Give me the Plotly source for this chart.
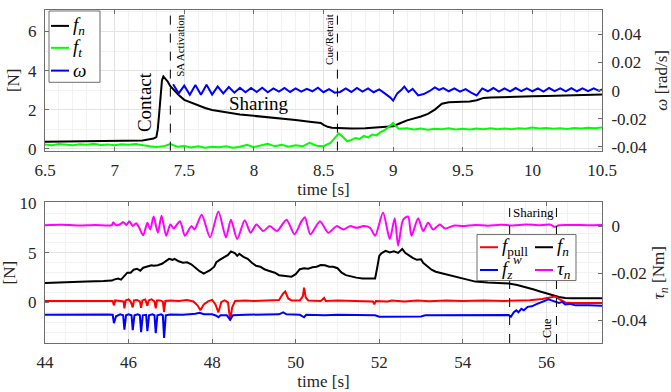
import plotly.graph_objects as go

# ---------------- Top panel data ----------------
top_t_fn = [6.5, 6.7, 6.9, 7.1, 7.2, 7.25, 7.28, 7.3, 7.31, 7.32, 7.33, 7.34, 7.35, 7.36, 7.38, 7.4,
            7.43, 7.46, 7.5, 7.55, 7.6, 7.65, 7.7, 7.8, 7.9, 8.0, 8.1, 8.2, 8.3, 8.4, 8.46, 8.48, 8.5,
            8.53, 8.56, 8.6, 8.7, 8.8, 8.9, 8.95, 9.0, 9.05, 9.1, 9.2, 9.25, 9.3, 9.35, 9.4, 9.5, 9.55,
            9.6, 9.65, 9.7, 9.8, 9.9, 10.0, 10.1, 10.2, 10.3, 10.4, 10.5]
top_fn = [0.35, 0.36, 0.38, 0.38, 0.42, 0.48, 0.52, 0.6, 1.0, 1.8, 2.8, 3.5, 3.7, 3.62, 3.45, 3.2,
          2.95, 2.75, 2.5, 2.35, 2.2, 2.08, 1.98, 1.85, 1.75, 1.68, 1.62, 1.55, 1.47, 1.38, 1.36, 1.32, 1.22,
          1.12, 1.07, 1.05, 1.03, 1.05, 1.1, 1.12, 1.15, 1.3, 1.45, 1.65, 1.78, 2.0, 2.3, 2.38, 2.4, 2.42,
          2.48, 2.6, 2.62, 2.63, 2.65, 2.68, 2.7, 2.72, 2.75, 2.76, 2.77]

top_t_ft = [6.5, 6.55, 6.6, 6.65, 6.7, 6.75, 6.8, 6.85, 6.9, 6.95, 7.0, 7.05, 7.1, 7.15, 7.2, 7.25,
            7.3, 7.35, 7.4, 7.45, 7.5, 7.55, 7.6, 7.65, 7.7, 7.75, 7.8, 7.85, 7.9, 7.95, 8.0, 8.05, 8.1,
            8.15, 8.2, 8.25, 8.3, 8.35, 8.4, 8.45, 8.5, 8.55, 8.58, 8.61, 8.64, 8.67, 8.7, 8.73, 8.76,
            8.79, 8.82, 8.85, 8.88, 8.91, 8.94, 8.97, 9.0, 9.02, 9.04, 9.1, 9.15, 9.2, 9.25, 9.3, 9.35,
            9.4, 9.45, 9.5, 9.55, 9.6, 9.65, 9.7, 9.75, 9.8, 9.85, 9.9, 9.95, 10.0, 10.05, 10.1, 10.15,
            10.2, 10.25, 10.3, 10.35, 10.4, 10.45, 10.5]
top_ft = [0.22, 0.18, 0.24, 0.2, 0.17, 0.23, 0.2, 0.25, 0.19, 0.22, 0.18, 0.23, 0.2, 0.24, 0.17, 0.12,
          0.08, 0.12, 0.24, 0.1, 0.14, 0.06, 0.12, 0.05, 0.1, 0.07, 0.12, 0.05, 0.1, 0.2, 0.08, 0.15, 0.25,
          0.12, 0.2, 0.1, 0.18, 0.12, 0.3, 0.15, 0.13, 0.3, 0.55, 0.78, 0.6, 0.38, 0.45, 0.55, 0.5,
          0.65, 0.58, 0.72, 0.68, 0.85, 0.95, 1.15, 1.32, 1.15, 1.02, 1.05, 0.98, 1.03, 0.97, 1.02, 0.99,
          1.04, 0.98, 1.02, 0.98, 1.03, 1.0, 1.05, 0.99, 1.03, 1.0, 1.04, 1.02, 1.08, 1.03, 1.06, 1.02,
          1.05, 1.01, 1.06, 1.03, 1.07, 1.04, 1.08]

top_t_w = [7.42, 7.46, 7.5, 7.54, 7.58, 7.62, 7.66, 7.7, 7.74, 7.78, 7.82, 7.86, 7.9, 7.94, 7.98,
           8.02, 8.06, 8.1, 8.14, 8.18, 8.22, 8.26, 8.3, 8.34, 8.38, 8.42, 8.46, 8.5, 8.54, 8.58, 8.62,
           8.66, 8.7, 8.74, 8.78, 8.82, 8.86, 8.9, 8.94, 8.98, 9.0, 9.03, 9.06, 9.08, 9.11, 9.14, 9.18,
           9.22, 9.26, 9.3, 9.33, 9.36, 9.4, 9.44, 9.48, 9.52, 9.56, 9.6, 9.64, 9.68, 9.72, 9.76, 9.8,
           9.84, 9.88, 9.92, 9.96, 10.0, 10.04, 10.08, 10.12, 10.16, 10.2, 10.24, 10.28, 10.32, 10.36,
           10.4, 10.44, 10.48, 10.5]
top_w = [0.0045, -0.002, 0.0035, -0.003, 0.004, -0.003, 0.0042, -0.0028, 0.003, -0.002, 0.0025,
         -0.0015, 0.002, -0.0012, 0.0018, -0.001, 0.002, -0.0012, 0.0015, -0.0008, 0.0018, -0.001,
         0.0015, -0.0008, 0.0012, -0.0005, 0.002, -0.0012, 0.001, -0.0015, -0.001, 0.0015, -0.001,
         0.0018, -0.0008, 0.0015, -0.0012, 0.0008, -0.002, -0.005, -0.0072, -0.002, 0.0005, 0.0028,
         -0.001, 0.0012, -0.0035, -0.0025, -0.0005, 0.0022, 0.0005, 0.0018, -0.0005, 0.0015, -0.0008,
         0.001, -0.0015, -0.0035, 0.0015, -0.0005, 0.0018, -0.0008, 0.0015, -0.0006, 0.0018, -0.0004,
         0.0016, -0.0005, 0.0015, -0.0008, 0.0018, -0.0004, 0.0015, -0.0006, 0.0017, -0.0005, 0.0015,
         -0.0004, 0.0016, -0.0003, 0.0008]

# ---------------- Bottom panel data ----------------
bot_t_pull = [44.0, 44.5, 45.0, 45.5, 45.62, 45.65, 45.68, 45.8, 45.88, 45.9, 45.93, 46.0, 46.05,
              46.1, 46.13, 46.2, 46.27, 46.3, 46.33, 46.4, 46.45, 46.48, 46.55, 46.62, 46.65, 46.68,
              46.75, 46.82, 46.85, 46.88, 47.0, 47.2, 47.4, 47.55, 47.65, 47.72, 47.8, 47.9, 48.0,
              48.08, 48.15, 48.22, 48.3, 48.38, 48.43, 48.48, 48.55, 48.8, 49.0, 49.3, 49.6, 49.7,
              49.75, 49.82, 49.9, 50.1, 50.17, 50.2, 50.24, 50.3, 50.6, 50.68, 50.72, 51.0, 51.4,
              51.85, 51.88, 51.92, 52.2, 52.3, 52.6, 52.9, 53.2, 53.6, 54.0, 54.5, 55.0, 55.3, 55.6,
              55.9, 56.1, 56.2, 56.3, 56.45, 56.6, 57.0, 57.33]
bot_pull = [0.15, 0.17, 0.15, 0.17, 0.15, -0.3, 0.2, 0.15, 0.1, -0.6, 0.2, 0.3, 0.1,
            -0.5, 0.2, 0.25, 0.1, -0.55, 0.2, 0.3, -0.35, 0.2, 0.3, 0.1, -0.6, 0.2,
            0.2, 0.1, -0.95, 0.15, 0.2, 0.15, 0.25, 0.1, -0.3, -0.8, -0.2, 0.1, 0.25,
            -0.2, -1.0, 0.05, 0.2, 0.0, -1.8, -0.5, 0.15, 0.2, 0.15, 0.2, 0.25, 0.9,
            1.1, 0.4, 0.2, 0.2, 0.6, 1.5, 0.5, 0.2, 0.15, 0.45, 0.15, 0.2, 0.15,
            0.1, -0.2, 0.15, 0.1, 0.2, 0.1, 0.2, 0.12, 0.2, 0.15, 0.2, 0.15, 0.2, 0.22,
            0.35, 0.55, 0.6, 0.35, 0.0, -0.05, -0.05, -0.05]

bot_t_fz = [44.0, 44.5, 45.0, 45.5, 45.62, 45.65, 45.7, 45.8, 45.87, 45.9, 45.94, 46.0, 46.07, 46.1,
            46.14, 46.22, 46.27, 46.3, 46.34, 46.42, 46.45, 46.49, 46.57, 46.62, 46.65, 46.69, 46.78,
            46.82, 46.85, 46.89, 47.0, 47.3, 47.6, 47.7, 47.8, 48.0, 48.1, 48.15, 48.2, 48.35, 48.43,
            48.5, 48.8, 49.2, 49.6, 49.7, 49.78, 50.1, 50.2, 50.25, 50.7, 51.0, 51.5, 51.9, 52.0, 52.5,
            53.0, 53.1, 53.5, 54.0, 54.5, 55.1, 55.15, 55.22, 55.28, 55.33, 55.4, 55.46, 55.55, 55.65,
            55.75, 55.85, 55.95, 56.05, 56.12, 56.2, 56.3, 56.38, 56.45, 56.55, 56.7, 57.0, 57.33]
bot_fz = [-1.25, -1.22, -1.25, -1.22, -1.25, -2.1, -1.4, -1.2, -1.3, -2.75, -1.3, -1.2, -1.3, -2.8,
          -1.3, -1.2, -1.3, -3.0, -1.3, -1.25, -2.9, -1.3, -1.2, -1.3, -3.1, -1.3, -1.2,
          -1.3, -3.6, -1.3, -1.22, -1.25, -1.15, -1.05, -1.2, -1.2, -1.35, -1.5, -1.3, -1.3, -1.75,
          -1.3, -1.25, -1.25, -1.2, -1.0, -1.2, -1.25, -1.5, -1.25, -1.3, -1.25, -1.27, -1.3, -1.45, -1.45,
          -1.42, -1.3, -1.3, -1.28, -1.3, -1.28, -1.45, -1.0, -0.8, -1.0, -0.65, -0.8, -0.45, -0.4,
          -0.2, -0.05, 0.15, 0.3, 0.2, 0.1, -0.05, 0.05, -0.2, -0.15, -0.3, -0.3, -0.33]

bot_t_fn = [44.0, 44.5, 45.0, 45.4, 45.6, 45.65, 45.75, 45.82, 45.9, 45.97, 46.05, 46.12, 46.2, 46.28,
            46.35, 46.45, 46.55, 46.6, 46.7, 46.8, 46.9, 46.97, 47.05, 47.1, 47.2, 47.3, 47.4, 47.5,
            47.6, 47.7, 47.8, 47.9, 47.95, 48.05, 48.1, 48.2, 48.3, 48.38, 48.45, 48.55, 48.6, 48.65,
            48.75, 48.85, 48.95, 49.05, 49.15, 49.25, 49.35, 49.5, 49.6, 49.7, 49.8, 49.9, 50.0, 50.1,
            50.2, 50.3, 50.4, 50.5, 50.6, 50.7, 50.8, 50.9, 51.0, 51.1, 51.2, 51.3, 51.45, 51.6, 51.8,
            51.9, 51.95, 52.0, 52.05, 52.15, 52.25, 52.35, 52.45, 52.55, 52.62, 52.7, 52.8, 52.9, 53.0,
            53.05, 53.15, 53.25, 53.35, 53.5, 53.7, 53.9, 54.1, 54.3, 54.6, 54.9, 55.1, 55.3, 55.5,
            55.7, 55.85, 56.0, 56.15, 56.3, 56.45, 56.6, 57.0, 57.33]
bot_fn = [1.95, 2.05, 2.1, 2.15, 2.2, 2.3, 2.4, 2.3, 2.7, 3.0, 3.0, 3.3, 3.4, 3.2,
          3.5, 3.6, 3.75, 3.7, 3.75, 3.9, 4.2, 4.4, 4.3, 4.4, 4.15, 4.0, 4.05, 3.85,
          3.5, 3.15, 2.9, 3.1, 3.25, 3.6, 4.05, 4.35, 4.6, 4.8, 5.15, 4.95, 4.7, 4.9,
          4.6, 4.4, 4.0, 3.7, 3.6, 3.35, 3.2, 3.0, 2.75, 2.7, 2.72, 2.6, 2.85, 3.35,
          3.45, 3.4, 3.55, 3.6, 3.78, 3.75, 3.6, 3.6, 3.45, 3.0, 2.75, 2.62, 2.5, 2.42, 2.4,
          2.42, 3.5, 4.7, 4.95, 5.2, 5.05, 5.15, 5.0, 5.4, 5.0, 4.75, 4.5, 4.3, 4.35,
          4.0, 3.6, 3.3, 3.1, 2.95, 2.7, 2.5, 2.3, 2.1, 2.0, 1.95, 1.9, 1.75, 1.55,
          1.3, 1.1, 0.9, 0.7, 0.55, 0.45, 0.42, 0.42, 0.42]

bot_t_tau = [44.0, 44.4, 44.8, 45.2, 45.6, 45.63, 45.7, 45.8, 45.87, 45.95, 46.02, 46.1, 46.18, 46.25,
             46.35, 46.45, 46.52, 46.6, 46.7, 46.79, 46.9, 47.0, 47.08, 47.23, 47.35, 47.5, 47.58,
             47.75, 47.95, 48.15, 48.33, 48.45, 48.6, 48.78, 48.92, 49.06, 49.22, 49.38, 49.55, 49.78,
             49.97, 50.14, 50.22, 50.35, 50.58, 50.78, 50.98, 51.14, 51.3, 51.46, 51.62, 51.78, 51.9,
             52.09, 52.25, 52.37, 52.45, 52.57, 52.69, 52.77, 52.93, 53.05, 53.17, 53.29, 53.45, 53.57,
             53.8, 54.0, 54.3, 54.6, 54.9, 55.2, 55.5, 55.8, 56.1, 56.2, 56.3, 56.6, 57.0, 57.33]
bot_tau = [0.0004, 0.0006, 0.0003, 0.0005, 0.0004, 0.0016, 0.0004, 0.0008, 0.0017, 0.0005, 0.0021,
           0.0, 0.0012, -0.0005, -0.0039, 0.0014, -0.0014, 0.0041, -0.0028, 0.0044, -0.0041, 0.0007,
           -0.001, 0.0021, -0.0041, 0.0, -0.0014, 0.0048, -0.0048, 0.0062, -0.0048, 0.0027, -0.0055,
           0.0025, -0.0028, 0.0007, -0.0021, 0.0, -0.0021, 0.0027, -0.0035, 0.0021, 0.0038, -0.0035,
           0.0021, -0.0028, 0.0, -0.0014, 0.0, -0.0007, 0.0, -0.0007, -0.0041, 0.0058, -0.0055, 0.0034,
           -0.0083, 0.0027, 0.0041, -0.0041, 0.0034, -0.0021, 0.0014, -0.0014, 0.0007, -0.001, 0.0003,
           0.0, 0.0005, 0.0002, 0.0006, 0.0003, 0.0007, 0.0004, 0.0006, -0.0003, 0.0004, 0.0005, 0.0004,
           0.0005]

# Tick labels
top_x_ticks = [6.5, 7, 7.5, 8, 8.5, 9, 9.5, 10, 10.5]
top_x_labels = ["6.5", "7", "7.5", "8", "8.5", "9", "9.5", "10", "10.5"]
top_y_ticks = [0, 2, 4, 6]
top_y2_ticks = [-0.04, -0.02, 0, 0.02, 0.04]
top_y2_labels = ["-0.04", "-0.02", "0", "0.02", "0.04"]
bot_x_ticks = [44, 46, 48, 50, 52, 54, 56]
bot_y_ticks = [0, 5, 10]
bot_y2_ticks = [-0.04, -0.02, 0]
bot_y2_labels = ["-0.04", "-0.02", "0"]

# Event markers
top_events = [7.4, 8.6]
bot_events = [55.12, 56.24]

FONT = "Liberation Serif"
TXT = "#262626"
AX = "#6e6e6e"
GRID = "#e3e3e3"
MINOR = "#f2f2f2"
LW = 2

fig = go.Figure()
fig.add_trace(go.Scatter(x=top_t_fn, y=top_fn, mode="lines", line=dict(color="black", width=LW),
                         xaxis="x", yaxis="y", showlegend=False, name="f_n"))
fig.add_trace(go.Scatter(x=top_t_ft, y=top_ft, mode="lines", line=dict(color="#00ff00", width=LW),
                         xaxis="x", yaxis="y", showlegend=False, name="f_t"))
fig.add_trace(go.Scatter(x=top_t_w, y=top_w, mode="lines", line=dict(color="#0000ff", width=LW),
                         xaxis="x", yaxis="y2", showlegend=False, name="omega"))
fig.add_trace(go.Scatter(x=bot_t_fn, y=bot_fn, mode="lines", line=dict(color="black", width=LW),
                         xaxis="x2", yaxis="y3", showlegend=False, name="f_n"))
fig.add_trace(go.Scatter(x=bot_t_pull, y=bot_pull, mode="lines", line=dict(color="#ff0000", width=LW),
                         xaxis="x2", yaxis="y3", showlegend=False, name="f_pull"))
fig.add_trace(go.Scatter(x=bot_t_fz, y=bot_fz, mode="lines", line=dict(color="#0000ff", width=LW),
                         xaxis="x2", yaxis="y3", showlegend=False, name="f_z^w"))
fig.add_trace(go.Scatter(x=bot_t_tau, y=bot_tau, mode="lines",
                         line=dict(color="#ff00ff", width=LW, shape="spline", smoothing=0.7),
                         xaxis="x2", yaxis="y4", showlegend=False, name="tau_n"))

tickfont = dict(family=FONT, size=17, color=TXT)
titlefont = dict(family=FONT, size=17, color=TXT)

def xax(anchor, rng, tv, tt, minor_dt):
    return dict(anchor=anchor, domain=[0, 1], range=rng, tickvals=tv, ticktext=tt,
                ticks="inside", ticklen=4, tickcolor=AX, showline=True, linecolor=AX, linewidth=1,
                mirror="ticks", showgrid=True, gridcolor=GRID, zeroline=False, tickfont=tickfont,
                ticklabelstandoff=4,
                minor=dict(dtick=minor_dt, showgrid=True, gridcolor=MINOR, ticks=""),
                title=dict(text="time [s]", font=titlefont, standoff=2))

def yax(anchor, dom, rng, tv, minor_dt):
    return dict(anchor=anchor, domain=dom, range=rng, tickvals=tv, ticks="inside", ticklen=4,
                tickcolor=AX, showline=True, linecolor=AX, linewidth=1, mirror=True, showgrid=True,
                gridcolor=GRID, zeroline=False, tickfont=tickfont, ticklabelstandoff=4,
                minor=dict(dtick=minor_dt, showgrid=True, gridcolor=MINOR, ticks=""),
                title=dict(text="[N]", font=titlefont, standoff=4))

def y2ax(anchor, over, rng, tv, tt, title):
    return dict(anchor=anchor, overlaying=over, side="right", range=rng, tickvals=tv, ticktext=tt,
                ticks="inside", ticklen=4, tickcolor=AX, showline=True, linecolor=AX, linewidth=1,
                showgrid=False, zeroline=False, tickfont=tickfont, ticklabelstandoff=5,
                title=dict(text=title, font=titlefont, standoff=8))

top_dom = [0.5777, 1.0]
bot_dom = [0.0, 0.4223]

fig.update_layout(
    width=671, height=392, margin=dict(l=45, r=69, t=2, b=49),
    paper_bgcolor="white", plot_bgcolor="white", showlegend=False,
    font=dict(family=FONT, color=TXT),
    xaxis=xax("y", [6.5, 10.5], top_x_ticks, top_x_labels, 0.1),
    yaxis=yax("x", top_dom, [-0.1, 7.1], top_y_ticks, 1),
    yaxis2=y2ax("x", "y", [-0.0428, 0.0574], top_y2_ticks, top_y2_labels, "<i>ω</i> [rad/s]"),
    xaxis2=xax("y3", [44, 57.33], bot_x_ticks, [str(v) for v in bot_x_ticks], 0.5),
    yaxis3=yax("x2", bot_dom, [-4.1, 10.1], bot_y_ticks, 1),
    yaxis4=y2ax("x2", "y3", [-0.0497, 0.0101], bot_y2_ticks, bot_y2_labels,
                "<i>τ</i><sub><i>n</i></sub> [Nm]"),
)

shapes = []
for xv in top_events:
    shapes.append(dict(type="line", xref="x", yref="y domain", x0=xv, x1=xv, y0=0, y1=1,
                       line=dict(color="black", width=1, dash="dash"), layer="above"))
for xv in bot_events:
    shapes.append(dict(type="line", xref="x2", yref="y3 domain", x0=xv, x1=xv, y0=0, y1=1,
                       line=dict(color="black", width=1, dash="dash"), layer="above"))

# Legend boxes (drawn manually)
shapes.append(dict(type="rect", xref="x domain", yref="y domain", x0=0.0072, x1=0.0987, y0=0.486, y1=0.993,
                   fillcolor="white", line=dict(color=AX, width=1), layer="above"))
shapes.append(dict(type="rect", xref="x2 domain", yref="y3 domain", x0=0.7756, x1=0.9533, y0=0.444, y1=0.771,
                   fillcolor="white", line=dict(color=AX, width=1), layer="above"))

annotations = []
top_leg = [("<i>f</i><sub><i>n</i></sub>", "black", 0.887),
           ("<i>f</i><sub><i>t</i></sub>", "#00ff00", 0.731),
           ("<i>ω</i>", "#0000ff", 0.569)]
for txt, col, yy in top_leg:
    shapes.append(dict(type="line", xref="x domain", yref="y domain", x0=0.0108, x1=0.0431, y0=yy, y1=yy,
                       line=dict(color=col, width=LW), layer="above"))
    annotations.append(dict(text=txt, xref="x domain", yref="y domain", x=0.0467, y=yy, xanchor="left",
                            yanchor="middle", showarrow=False, font=dict(family=FONT, size=19, color="black")))

bot_leg = [("<i>f</i><sub>pull</sub>", "#ff0000", 0.781, 0.8133, 0.8169, 0.681),
           ("<i>f</i><sub><i>z</i></sub>", "#0000ff", 0.781, 0.8133, 0.8169, 0.519),
           ("<i>f</i><sub><i>n</i></sub>", "black", 0.8797, 0.912, 0.9156, 0.681),
           ("<i>τ</i><sub><i>n</i></sub>", "#ff00ff", 0.8797, 0.912, 0.9156, 0.519)]
for txt, col, x0, x1, xt, yy in bot_leg:
    shapes.append(dict(type="line", xref="x2 domain", yref="y3 domain", x0=x0, x1=x1, y0=yy, y1=yy,
                       line=dict(color=col, width=LW), layer="above"))
    annotations.append(dict(text=txt, xref="x2 domain", yref="y3 domain", x=xt, y=yy, xanchor="left",
                            yanchor="middle", showarrow=False, font=dict(family=FONT, size=19, color="black")))
annotations.append(dict(text="<i>w</i>", xref="x2 domain", yref="y3 domain", x=0.8169, y=0.519,
                        xanchor="left", yanchor="middle", xshift=11, yshift=11, showarrow=False,
                        font=dict(family=FONT, size=13, color="black")))

# Text labels
annotations += [
    dict(text="Contact", x=7.22, y=2.4, xref="x", yref="y", textangle=-90, showarrow=False,
         font=dict(family=FONT, size=19, color="black")),
    dict(text="Sharing", x=8.04, y=2.33, xref="x", yref="y", showarrow=False,
         font=dict(family=FONT, size=19, color="black")),
    dict(text="SA Activation", x=top_events[0], y=1, xref="x", yref="y domain", xanchor="left",
         yanchor="top", xshift=1, yshift=-2, textangle=-90, showarrow=False,
         font=dict(family=FONT, size=11, color="black")),
    dict(text="Cue/Retrait", x=top_events[1], y=1, xref="x", yref="y domain", xanchor="right",
         yanchor="top", xshift=-1, yshift=-2, textangle=-90, showarrow=False,
         font=dict(family=FONT, size=11, color="black")),
    dict(text="Sharing", x=(bot_events[0] + bot_events[1]) / 2, y=1, xref="x2", yref="y3 domain",
         yanchor="top", yshift=-1, showarrow=False, font=dict(family=FONT, size=13, color="black")),
    dict(text="Cue", x=bot_events[1], y=0, xref="x2", yref="y3 domain", xanchor="right",
         yanchor="bottom", xshift=-1, yshift=3, textangle=-90, showarrow=False,
         font=dict(family=FONT, size=12, color="black")),
]

fig.update_layout(shapes=shapes, annotations=annotations)
fig.write_html("out.html", config={"displayModeBar": False},
               post_script="document.body.style.margin='0';document.body.style.overflow='hidden';")
